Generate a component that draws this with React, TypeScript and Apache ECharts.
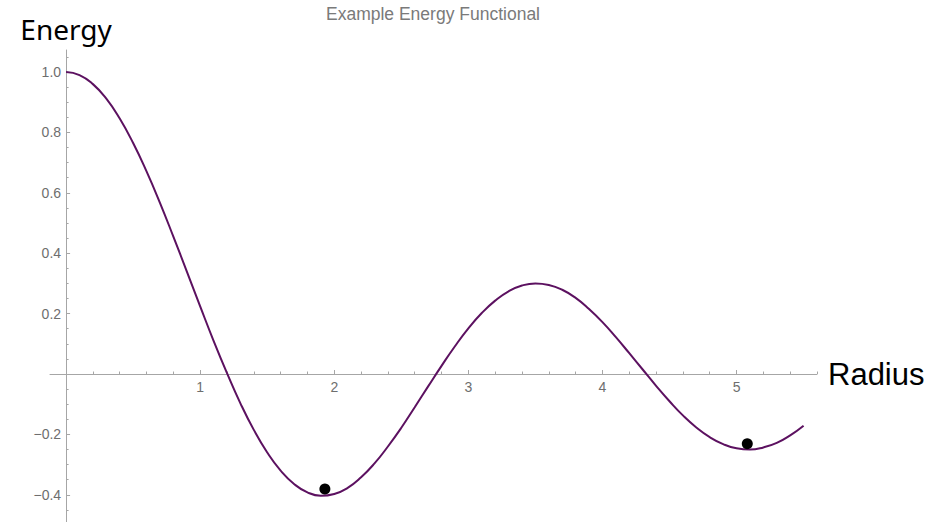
import React, { useEffect, useRef } from "react";
import * as echarts from "echarts";

// Sampled energy curve E(r)
const radius = [
  0, 0.1, 0.2, 0.3, 0.4, 0.5, 0.6, 0.7, 0.8, 0.9,
  1.0, 1.1, 1.2, 1.3, 1.4, 1.5, 1.6, 1.7, 1.8, 1.9,
  2.0, 2.1, 2.2, 2.3, 2.4, 2.5, 2.6, 2.7, 2.8, 2.9,
  3.0, 3.1, 3.2, 3.3, 3.4, 3.5, 3.6, 3.7, 3.8, 3.9,
  4.0, 4.1, 4.2, 4.3, 4.4, 4.5, 4.6, 4.7, 4.8, 4.9,
  5.0, 5.1, 5.2, 5.3, 5.4, 5.5,
];
const energy = [
  1.0, 0.99, 0.96, 0.912, 0.846, 0.765, 0.671, 0.567, 0.455, 0.34,
  0.224, 0.11, 0.003, -0.097, -0.185, -0.26, -0.32, -0.364, -0.392, -0.403,
  -0.397, -0.377, -0.342, -0.296, -0.24, -0.178, -0.11, -0.041, 0.027, 0.092,
  0.151, 0.202, 0.243, 0.274, 0.293, 0.3, 0.295, 0.279, 0.252, 0.215,
  0.172, 0.122, 0.069, 0.015, -0.039, -0.09, -0.137, -0.177, -0.209, -0.232,
  -0.246, -0.25, -0.243, -0.228, -0.203, -0.171,
];

// Highlighted sample points
const markedRadius = [1.93, 5.08];
const markedEnergy = [-0.381, -0.231];

// Axis ticks
const xMajorTicks = [1, 2, 3, 4, 5];
const xMinorTicks = [
  0.2, 0.4, 0.6, 0.8, 1.2, 1.4, 1.6, 1.8, 2.2, 2.4, 2.6, 2.8,
  3.2, 3.4, 3.6, 3.8, 4.2, 4.4, 4.6, 4.8, 5.2, 5.4, 5.6,
];
const yMajorTicks = [-0.4, -0.2, 0.2, 0.4, 0.6, 0.8, 1.0];
const yMinorTicks = [
  -0.45, -0.35, -0.3, -0.25, -0.15, -0.1, -0.05, 0.05, 0.1, 0.15,
  0.25, 0.3, 0.35, 0.45, 0.5, 0.55, 0.65, 0.7, 0.75, 0.85, 0.9, 0.95, 1.05,
];

const X_MIN = -0.12;
const X_MAX = 5.6;
const Y_MIN = -0.49;
const Y_MAX = 1.073;

// Plot area
const WIDTH = 941;
const HEIGHT = 522;
const GRID_LEFT = 50;
const GRID_RIGHT = 124;
const GRID_TOP = 50;
const GRID_BOTTOM = 0;
const GRID_W = WIDTH - GRID_LEFT - GRID_RIGHT;
const GRID_H = HEIGHT - GRID_TOP - GRID_BOTTOM;

// Axes cross at the origin: shift them from the grid edges to zero
const X_AXIS_OFFSET = -GRID_H * ((0 - Y_MIN) / (Y_MAX - Y_MIN));
const Y_AXIS_OFFSET = -GRID_W * ((0 - X_MIN) / (X_MAX - X_MIN));

const AXIS_COLOR = "#a6a6a6";
const LABEL_COLOR = "#6e6e6e";
const CURVE_COLOR = "#5c1160";
const SANS = "'Liberation Sans', Arial, sans-serif";

const fmtY = (v: number) => {
  const s = Math.abs(v).toFixed(1);
  return v < 0 ? "\u2212" + s : s;
};

export default function App() {
  const ref = useRef<HTMLDivElement>(null);

  useEffect(() => {
    if (!ref.current) return;
    const chart = echarts.init(ref.current, undefined, { renderer: "svg" });

    const curve = radius.map((r, i) => [r, energy[i]]);
    const dots = markedRadius.map((r, i) => [r, markedEnergy[i]]);

    const tickStyle = { color: AXIS_COLOR, width: 1 };

    const option: any = {
      animation: false,
      backgroundColor: "#ffffff",
      title: {
        text: "Example Energy Functional",
        left: 428,
        top: 0,
        textAlign: "center",
        textStyle: {
          fontFamily: SANS,
          fontSize: 17.5,
          fontWeight: "normal",
          color: "#7a7a7a",
        },
      },
      grid: {
        left: GRID_LEFT,
        right: GRID_RIGHT,
        top: GRID_TOP,
        bottom: GRID_BOTTOM,
        containLabel: false,
        outerBoundsMode: "none",
      },
      xAxis: [
        {
          type: "value",
          min: X_MIN,
          max: X_MAX,
          position: "bottom",
          offset: X_AXIS_OFFSET,
          name: "Radius",
          nameLocation: "end",
          nameGap: 11,
          nameTextStyle: {
            fontFamily: SANS,
            fontSize: 31,
            color: "#000000",
            verticalAlign: "middle",
          },
          axisLine: {
            show: true,
            onZero: false,
            lineStyle: tickStyle,
          },
          axisTick: {
            show: true,
            inside: true,
            length: 4,
            customValues: xMajorTicks,
            lineStyle: tickStyle,
          },
          axisLabel: {
            show: true,
            customValues: xMajorTicks,
            margin: 6,
            fontFamily: SANS,
            fontSize: 14,
            color: LABEL_COLOR,
            formatter: (v: number) => String(v),
          },
          splitLine: { show: false },
        },
        {
          type: "value",
          min: X_MIN,
          max: X_MAX,
          position: "bottom",
          offset: X_AXIS_OFFSET,
          axisLine: { show: false, onZero: false },
          axisTick: {
            show: true,
            inside: true,
            length: 2.5,
            customValues: xMinorTicks,
            lineStyle: tickStyle,
          },
          axisLabel: { show: false },
          splitLine: { show: false },
        },
      ],
      yAxis: [
        {
          type: "value",
          min: Y_MIN,
          max: Y_MAX,
          position: "left",
          offset: Y_AXIS_OFFSET,
          name: "Energy",
          nameLocation: "end",
          nameGap: 7,
          nameTextStyle: {
            fontFamily: "'Noto Sans', 'Open Sans', sans-serif",
            fontSize: 28,
            color: "#000000",
          },
          axisLine: {
            show: true,
            onZero: false,
            lineStyle: tickStyle,
          },
          axisTick: {
            show: true,
            inside: true,
            length: 4,
            customValues: yMajorTicks,
            lineStyle: tickStyle,
          },
          axisLabel: {
            show: true,
            customValues: yMajorTicks,
            margin: 5,
            fontFamily: SANS,
            fontSize: 14,
            color: LABEL_COLOR,
            formatter: fmtY,
          },
          splitLine: { show: false },
        },
        {
          type: "value",
          min: Y_MIN,
          max: Y_MAX,
          position: "left",
          offset: Y_AXIS_OFFSET,
          axisLine: { show: false, onZero: false },
          axisTick: {
            show: true,
            inside: true,
            length: 2.5,
            customValues: yMinorTicks,
            lineStyle: tickStyle,
          },
          axisLabel: { show: false },
          splitLine: { show: false },
        },
      ],
      series: [
        {
          type: "line",
          xAxisIndex: 0,
          yAxisIndex: 0,
          data: curve,
          smooth: true,
          showSymbol: false,
          symbol: "none",
          clip: false,
          lineStyle: { color: CURVE_COLOR, width: 2 },
          z: 3,
        },
        {
          type: "scatter",
          xAxisIndex: 0,
          yAxisIndex: 0,
          data: dots,
          symbol: "circle",
          symbolSize: 11,
          itemStyle: { color: "#000000", opacity: 1 },
          z: 4,
        },
      ],
    };

    chart.setOption(option);
    return () => chart.dispose();
  }, []);

  return (
    <div
      ref={ref}
      style={{
        position: "fixed",
        left: 0,
        top: 0,
        width: WIDTH,
        height: HEIGHT,
        background: "#ffffff",
      }}
    />
  );
}
